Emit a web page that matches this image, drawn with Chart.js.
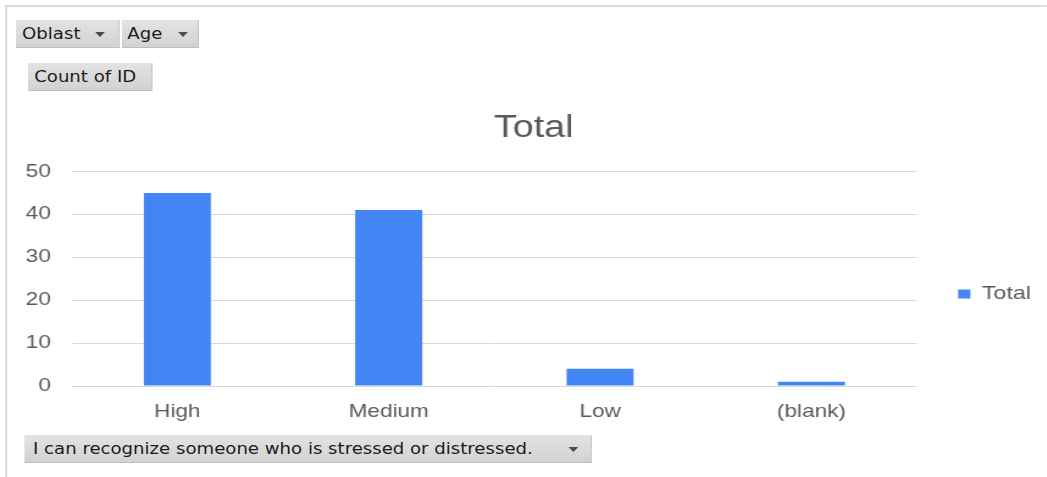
<!DOCTYPE html>
<html>
<head>
<meta charset="utf-8">
<script src="https://cdn.jsdelivr.net/npm/chart.js@4"></script>
<style>
  html, body { margin: 0; padding: 0; background: #fff; overflow: hidden; }
  body { width: 1047px; height: 477px; }
  /* the whole report panel is drawn on a horizontally widened stage */
  #stage {
    position: absolute; left: 0; top: 0;
    width: 858.2px; height: 477px;
    transform: scaleX(1.22); transform-origin: 0 0;
    overflow: hidden;
  }
  #frame {
    position: absolute; left: 4.1px; top: 5px; width: 900px; height: 470px;
    border-top: 2px solid #dcdcdc; border-left: 2px solid #dcdcdc; border-bottom: 1px solid #ececec;
  }
  #chart { position: absolute; left: 19.5px; top: 0; }
  .btn {
    position: absolute; height: 28px; box-sizing: border-box;
    background: linear-gradient(#e3e3e3, #d2d2d2);
    border-right: 1px solid #bdbdbd; border-bottom: 1px solid #bdbdbd;
    font-family: "DejaVu Sans Condensed", "DejaVu Sans", sans-serif; font-stretch: condensed;
    font-size: 16.5px; line-height: 28px; color: #1c1c1c; white-space: nowrap;
    padding-left: 5px;
  }
  .btn .arrow {
    position: absolute; top: 12px; width: 0; height: 0;
    border-left: 4.3px solid transparent; border-right: 4.3px solid transparent;
    border-top: 5px solid #4a4a4a;
  }
</style>
</head>
<body>
<div id="stage">
  <div id="frame"></div>
  <canvas id="chart" width="835" height="477"></canvas>
  <div class="btn" style="left:13.1px; top:20px; width:85.2px;">Oblast<span class="arrow" style="right:11.5px"></span></div>
  <div class="btn" style="left:100px; top:20px; width:63.1px; padding-left:4.3px;">Age<span class="arrow" style="right:8px"></span></div>
  <div class="btn" style="left:23px; top:63px; width:101.6px;">Count of ID</div>
  <div class="btn" style="left:19.7px; top:435px; width:465.6px; padding-left:7.4px;">I can recognize someone who is stressed or distressed.<span class="arrow" style="right:10px"></span></div>
</div>
<script>
// Responses to "I can recognize someone who is stressed or distressed."
const categories = ['High', 'Medium', 'Low', '(blank)'];
const seriesName = 'Total';
const counts = [45, 41, 4, 1];
const yMin = 0;
const yMax = 50;
const yStep = 10;

const textColor = '#595959';
const gridColor = '#d9d9d9';
const barColor = '#4285F4';
const fontFamily = '"Liberation Sans", Arial, sans-serif';

new Chart(document.getElementById('chart'), {
  type: 'bar',
  data: {
    labels: categories,
    datasets: [{
      label: seriesName,
      data: counts,
      backgroundColor: barColor,
      borderWidth: 0,
      barPercentage: 0.317,
      categoryPercentage: 1
    }]
  },
  options: {
    responsive: false,
    animation: false,
    devicePixelRatio: 1,
    layout: { padding: { top: 111, bottom: 0, left: 0, right: 0 } },
    plugins: {
      title: {
        display: true,
        text: seriesName,
        color: textColor,
        font: { family: '"Liberation Sans Narrow", "Liberation Sans", Arial, sans-serif', size: 31, weight: 'normal', lineHeight: 1 },
        padding: { top: 2, bottom: 27.5 }
      },
      legend: {
        position: 'right',
        labels: {
          boxWidth: 10,
          boxHeight: 9,
          padding: 33.6,
          color: textColor,
          font: { family: fontFamily, size: 19 }
        }
      },
      tooltip: { enabled: false }
    },
    scales: {
      x: {
        grid: { display: false, drawTicks: false },
        border: { display: false },
        ticks: { color: textColor, font: { family: fontFamily, size: 18.5 }, padding: 15 },
        afterFit(scale) { scale.height = 91; }
      },
      y: {
        min: yMin,
        max: yMax,
        grid: { color: gridColor, lineWidth: 1, drawTicks: false },
        border: { display: false },
        ticks: { stepSize: yStep, color: textColor, font: { family: fontFamily, size: 18.5 }, padding: 17 },
        afterFit(scale) { scale.width = 38.7; }
      }
    }
  }
});
</script>
</body>
</html>
